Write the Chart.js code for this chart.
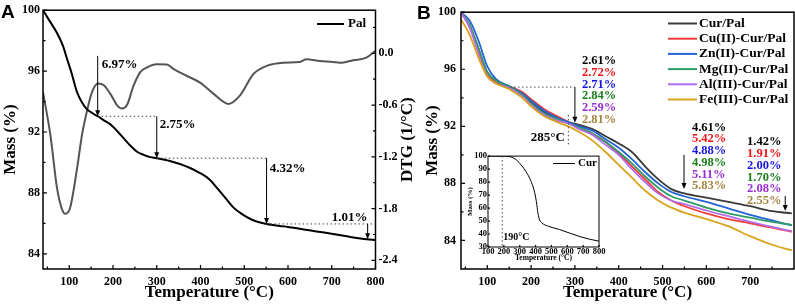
<!DOCTYPE html>
<html>
<head>
<meta charset="utf-8">
<script src="https://cdn.jsdelivr.net/npm/chart.js@4.4.1/dist/chart.umd.min.js"></script>
<style>
  html, body { margin: 0; padding: 0; background: #fff; }
  #wrap { position: relative; width: 795px; height: 304px; overflow: hidden; }
  #wrap canvas { position: absolute; top: 0; }
  .panel { position: absolute; font: bold 19px "Liberation Sans", Arial, sans-serif; color: #000; }
</style>
</head>
<body>
<div id="wrap">
  <canvas id="chartA" width="420" height="304" style="left:0"></canvas>
  <canvas id="chartB" width="377" height="304" style="left:418px"></canvas>
  <canvas id="inset" width="140" height="118" style="left:466px;top:150px"></canvas>
  <div class="panel" style="left:1px;top:1px">A</div>
  <div class="panel" style="left:417px;top:2px">B</div>
</div>
<script>
// ---- panel A: Pal, mass + DTG ----
const tempA = [40, 55, 72, 85, 95, 105, 118, 130, 140, 155, 167, 180, 194, 210, 224, 240, 255, 270, 285, 300,
  330, 353, 375, 399, 420, 437, 456, 475, 495, 513, 530, 551, 590, 627, 665, 703, 740, 780, 800];
const massPal = [100, 99.3, 98.5, 97.7, 96.8, 95.9, 94.6, 93.9, 93.5, 93.2, 93.0, 92.75, 92.5, 92.05, 91.6, 91.1, 90.7, 90.5, 90.35, 90.28,
  90.1, 89.9, 89.65, 89.3, 88.9, 88.35, 87.7, 87.05, 86.6, 86.3, 86.1, 85.96, 85.8, 85.65, 85.47, 85.3, 85.12, 84.95, 84.9];

const tempDtg = [40, 57, 72, 83, 91, 102, 118, 129, 140, 152, 166, 179, 194, 209, 220, 232, 247, 262, 277, 300,
  323, 338, 368, 399, 430, 464, 490, 521, 551, 589, 627, 642, 673, 703, 718, 749, 779, 800];
const dtgPal = [-0.45, -0.95, -1.56, -1.80, -1.86, -1.79, -1.33, -0.95, -0.68, -0.45, -0.35, -0.37, -0.47, -0.60, -0.64, -0.60, -0.375, -0.22, -0.165, -0.127,
  -0.13, -0.18, -0.26, -0.34, -0.47, -0.586, -0.49, -0.24, -0.146, -0.108, -0.10, -0.07, -0.09, -0.10, -0.11, -0.08, -0.05, 0.03];

const xTicksA = [100, 200, 300, 400, 500, 600, 700, 800];
const yTicksA = [84, 88, 92, 96, 100];
const dtgTicks = [-2.4, -1.8, -1.2, -0.6, 0.0];

// weight-loss steps: arrow x, from, to, label
const stepX = [165, 300, 551, 782];
const stepFrom = [97.0, 93.03, 90.28, 85.96];
const stepTo = [93.03, 90.28, 85.96, 84.95];
const stepLabels = ['6.97%', '2.75%', '4.32%', '1.01%'];

// ---- panel B: metal complexes ----
const tempB = [40, 60, 80, 100, 120, 150, 180, 200, 230, 260, 285, 310, 340, 370, 400, 430, 460, 490, 520, 550, 600, 650, 700, 750, 795];
const massCurPal = [100, 99.0, 97.4, 95.8, 95.2, 94.8, 94.3, 93.7, 93.0, 92.6, 92.3, 92.1, 91.8, 91.3, 90.8, 90.2, 89.2, 88.3, 87.6, 87.3, 87.0, 86.7, 86.4, 86.05, 85.9];
const massCu = [100, 99.0, 97.3, 95.7, 95.1, 94.8, 94.4, 93.9, 93.2, 92.7, 92.3, 91.9, 91.5, 90.9, 90.1, 89.2, 88.3, 87.4, 86.8, 86.4, 85.9, 85.5, 85.2, 84.9, 84.6];
const massZn = [100, 99.4, 98.0, 96.2, 95.3, 94.8, 94.3, 93.8, 93.1, 92.6, 92.3, 92.0, 91.7, 91.1, 90.5, 89.7, 88.8, 88.0, 87.4, 87.1, 86.7, 86.25, 85.8, 85.4, 85.05];
const massMg = [100, 99.1, 97.5, 95.8, 95.2, 94.8, 94.2, 93.6, 92.9, 92.5, 92.2, 91.9, 91.5, 90.9, 90.2, 89.4, 88.5, 87.7, 87.1, 86.8, 86.3, 85.9, 85.6, 85.3, 85.1];
const massAl = [100, 98.9, 97.1, 95.5, 95.0, 94.7, 94.1, 93.5, 92.8, 92.4, 92.2, 91.8, 91.4, 90.7, 90.0, 89.0, 88.1, 87.3, 86.8, 86.55, 86.1, 85.7, 85.3, 84.95, 84.65];
const massFe = [99.5, 98.4, 96.8, 95.5, 95.0, 94.6, 94.0, 93.4, 92.7, 92.3, 92.0, 91.6, 91.0, 90.2, 89.3, 88.4, 87.5, 86.8, 86.3, 85.95, 85.5, 85.0, 84.3, 83.7, 83.3];

const namesB = ['Cur/Pal', 'Cu(II)-Cur/Pal', 'Zn(II)-Cur/Pal', 'Mg(II)-Cur/Pal', 'Al(III)-Cur/Pal', 'Fe(III)-Cur/Pal'];
const seriesB = [massCurPal, massCu, massZn, massMg, massAl, massFe];
const lineColors = ['#3a3a3a', '#f23b3b', '#2463d6', '#2e9b68', '#b46ce6', '#d9a31c'];
const textColors = ['#000000', '#f01414', '#1515e0', '#1a7d1a', '#9a2ed2', '#a38440'];

const loss1 = ['2.61%', '2.72%', '2.71%', '2.84%', '2.59%', '2.81%'];
const loss2 = ['4.61%', '5.42%', '4.88%', '4.98%', '5.11%', '5.83%'];
const loss3 = ['1.42%', '1.91%', '2.00%', '1.70%', '2.08%', '2.55%'];

const xTicksB = [100, 200, 300, 400, 500, 600, 700];
const yTicksB = [84, 88, 92, 96, 100];

// ---- inset: Cur ----
const tempCur = [100, 150, 200, 240, 280, 310, 340, 370, 390, 405, 415, 425, 440, 480, 550, 620, 680, 740, 800];
const massCur = [100, 100, 100, 99.5, 97, 93, 88, 81, 74, 65, 56, 51, 48.5, 46, 43.5, 40.5, 38, 36, 34.5];
const xTicksIn = [100, 200, 300, 400, 500, 600, 700, 800];
const yTicksIn = [30, 40, 50, 60, 70, 80, 90, 100];

Chart.defaults.font.family = '"Liberation Serif", "Times New Roman", serif';
Chart.defaults.font.weight = 'bold';
Chart.defaults.color = '#000';

const SERIF = '"Liberation Serif", "Times New Roman", serif';

function pairs(xs, ys) {
    return xs.map((x, i) => ({ x: x, y: ys[i] }));
}

function steps(from, to, step) {
    const out = [];
    for (let v = from; v <= to + 1e-9; v += step) out.push(+v.toFixed(3));
    return out;
}

function fixSize(size) {
    return function (scale) {
        if (scale.isHorizontal()) scale.height = size;
        else scale.width = size;
    };
}

function setTicks(values) {
    return function (scale) {
        scale.ticks = values.map(v => ({ value: v }));
    };
}

function frame(ctx, a, lw) {
    ctx.save();
    ctx.strokeStyle = '#000';
    ctx.lineWidth = lw;
    ctx.strokeRect(a.left, a.top, a.right - a.left, a.bottom - a.top);
    ctx.restore();
}

function ticksIn(ctx, a, scale, values, len, side) {
    ctx.save();
    ctx.strokeStyle = '#000';
    ctx.lineWidth = 1.2;
    ctx.beginPath();
    values.forEach(v => {
        const p = scale.getPixelForValue(v);
        if (side === 'bottom') { ctx.moveTo(p, a.bottom); ctx.lineTo(p, a.bottom - len); }
        if (side === 'left') { ctx.moveTo(a.left, p); ctx.lineTo(a.left + len, p); }
        if (side === 'right') { ctx.moveTo(a.right, p); ctx.lineTo(a.right - len, p); }
    });
    ctx.stroke();
    ctx.restore();
}

function dotted(ctx, x1, y1, x2, y2) {
    ctx.save();
    ctx.strokeStyle = '#444';
    ctx.lineWidth = 1;
    ctx.setLineDash([1.5, 2.5]);
    ctx.beginPath();
    ctx.moveTo(x1, y1);
    ctx.lineTo(x2, y2);
    ctx.stroke();
    ctx.restore();
}

function arrowDown(ctx, x, y1, y2) {
    ctx.save();
    ctx.strokeStyle = '#000';
    ctx.fillStyle = '#000';
    ctx.lineWidth = 1;
    ctx.beginPath();
    ctx.moveTo(x, y1);
    ctx.lineTo(x, y2 - 4);
    ctx.stroke();
    ctx.beginPath();
    ctx.moveTo(x - 2.5, y2 - 6);
    ctx.lineTo(x + 2.5, y2 - 6);
    ctx.lineTo(x, y2);
    ctx.closePath();
    ctx.fill();
    ctx.restore();
}

function label(ctx, text, x, y, size, color, align) {
    ctx.save();
    ctx.font = 'bold ' + size + 'px ' + SERIF;
    ctx.fillStyle = color || '#000';
    ctx.textAlign = align || 'left';
    ctx.textBaseline = 'middle';
    ctx.fillText(text, x, y);
    ctx.restore();
}

const tickFont = { size: 12, weight: 'bold' };
const titleFont = { size: 17, weight: 'bold' };

// ---------- Chart A ----------
const decorA = {
    id: 'decorA',
    afterDatasetsDraw(chart) {
        const { ctx, chartArea: a, scales: { x, y, y2 } } = chart;
        frame(ctx, a, 1.5);
        ticksIn(ctx, a, x, xTicksA, 4, 'bottom');
        ticksIn(ctx, a, x, steps(50, 750, 100), 2.5, 'bottom');
        ticksIn(ctx, a, y, yTicksA, 4, 'left');
        ticksIn(ctx, a, y, steps(86, 98, 4), 2.5, 'left');
        ticksIn(ctx, a, y2, dtgTicks, 4, 'right');
        ticksIn(ctx, a, y2, steps(-2.1, 0.3, 0.6), 2.5, 'right');

        // weight-loss steps
        for (let i = 0; i < stepX.length; i++) {
            const px = x.getPixelForValue(stepX[i]);
            const yTop = y.getPixelForValue(stepFrom[i]);
            const yBot = y.getPixelForValue(stepTo[i]);
            if (i < stepX.length - 1) {
                const nx = i < stepX.length - 2 ? x.getPixelForValue(stepX[i + 1]) : a.right;
                dotted(ctx, px, yBot, nx, yBot);
            }
            arrowDown(ctx, px, yTop, yBot);
        }
        label(ctx, stepLabels[0], x.getPixelForValue(174), y.getPixelForValue(96.4), 13);
        label(ctx, stepLabels[1], x.getPixelForValue(307), y.getPixelForValue(92.5), 13);
        label(ctx, stepLabels[2], x.getPixelForValue(558), y.getPixelForValue(89.6), 13);
        label(ctx, stepLabels[3], x.getPixelForValue(700), y.getPixelForValue(86.4), 13);

        // legend
        const ly = 24;
        ctx.save();
        ctx.strokeStyle = '#000';
        ctx.lineWidth = 2;
        ctx.beginPath();
        ctx.moveTo(317, ly);
        ctx.lineTo(344, ly);
        ctx.stroke();
        ctx.restore();
        label(ctx, 'Pal', 348, ly, 13);

        // right axis title, reads bottom to top
        ctx.save();
        ctx.translate(408, (a.top + a.bottom) / 2);
        ctx.rotate(-Math.PI / 2);
        label(ctx, 'DTG (1/°C)', 0, 0, 17, '#000', 'center');
        ctx.restore();
    }
};

new Chart(document.getElementById('chartA'), {
    type: 'line',
    data: {
        datasets: [
            { label: 'Pal', data: pairs(tempA, massPal), yAxisID: 'y', borderColor: '#000', borderWidth: 2,
              pointRadius: 0, cubicInterpolationMode: 'monotone', fill: false },
            { label: 'DTG', data: pairs(tempDtg, dtgPal), yAxisID: 'y2', borderColor: '#555', borderWidth: 2,
              pointRadius: 0, cubicInterpolationMode: 'monotone', fill: false }
        ]
    },
    options: {
        responsive: false, animation: false, devicePixelRatio: 1,
        layout: { padding: { top: 7, left: 0, right: 0, bottom: 0 } },
        plugins: { legend: { display: false }, tooltip: { enabled: false } },
        scales: {
            x: {
                type: 'linear', min: 40, max: 800,
                afterBuildTicks: setTicks(xTicksA), afterFit: fixSize(35),
                grid: { display: false, drawTicks: false }, border: { display: false },
                ticks: { font: tickFont, padding: 6, maxRotation: 0, autoSkip: false },
                title: { display: true, text: 'Temperature (°C)', font: titleFont, padding: { top: 0, bottom: 1 } }
            },
            y: {
                position: 'left', min: 83, max: 100,
                afterBuildTicks: setTicks(yTicksA), afterFit: fixSize(43),
                grid: { display: false, drawTicks: false }, border: { display: false },
                ticks: { font: tickFont, padding: 3, autoSkip: false },
                title: { display: true, text: 'Mass (%)', font: titleFont, padding: { top: 0, bottom: 0 } }
            },
            y2: {
                position: 'right', min: -2.5, max: 0.5,
                afterBuildTicks: setTicks(dtgTicks), afterFit: fixSize(44.5),
                grid: { display: false, drawTicks: false }, border: { display: false },
                ticks: { font: tickFont, padding: 3, autoSkip: false, callback: v => v.toFixed(1) }
            }
        }
    },
    plugins: [decorA]
});

// ---------- Chart B ----------
const decorB = {
    id: 'decorB',
    afterDatasetsDraw(chart) {
        const { ctx, chartArea: a, scales: { x, y } } = chart;
        frame(ctx, a, 1.5);
        ticksIn(ctx, a, x, xTicksB, 4, 'bottom');
        ticksIn(ctx, a, x, steps(50, 750, 100), 2.5, 'bottom');
        ticksIn(ctx, a, y, yTicksB, 4, 'left');
        ticksIn(ctx, a, y, steps(86, 98, 4), 2.5, 'left');

        // first step, 285 °C
        const yA = y.getPixelForValue(94.75);
        dotted(ctx, x.getPixelForValue(152), yA, x.getPixelForValue(300), yA);
        arrowDown(ctx, x.getPixelForValue(300), yA, y.getPixelForValue(92.25));
        dotted(ctx, x.getPixelForValue(285), y.getPixelForValue(92.8), x.getPixelForValue(285), y.getPixelForValue(90.6));
        label(ctx, '285°C', x.getPixelForValue(277), y.getPixelForValue(91.2), 13, '#000', 'right');

        arrowDown(ctx, x.getPixelForValue(549), y.getPixelForValue(90.0), y.getPixelForValue(87.6));
        arrowDown(ctx, x.getPixelForValue(780), y.getPixelForValue(87.12), y.getPixelForValue(86.06));

        const groups = [[loss1, 316, 96.58], [loss2, 567, 91.92], [loss3, 693, 90.89]];
        groups.forEach(([texts, gx, gy]) => {
            const px = x.getPixelForValue(gx);
            const py = y.getPixelForValue(gy);
            texts.forEach((t, i) => label(ctx, t, px, py + i * 11.7, 12.5, textColors[i]));
        });

        // legend
        namesB.forEach((n, i) => {
            const ly = 23.5 + i * 15.2;
            ctx.save();
            ctx.strokeStyle = lineColors[i];
            ctx.lineWidth = 2;
            ctx.beginPath();
            ctx.moveTo(668 - 418, ly);
            ctx.lineTo(697 - 418, ly);
            ctx.stroke();
            ctx.restore();
            label(ctx, n, 699 - 418, ly, 13.5);
        });
    }
};

new Chart(document.getElementById('chartB'), {
    type: 'line',
    data: {
        datasets: namesB.map((n, i) => ({
            label: n, data: pairs(tempB, seriesB[i]), borderColor: lineColors[i], borderWidth: 1.8,
            pointRadius: 0, cubicInterpolationMode: 'monotone', fill: false, order: namesB.length - i
        }))
    },
    options: {
        responsive: false, animation: false, devicePixelRatio: 1,
        layout: { padding: { top: 7, left: 0, right: 1, bottom: 0 } },
        plugins: { legend: { display: false }, tooltip: { enabled: false } },
        scales: {
            x: {
                type: 'linear', min: 40, max: 800,
                afterBuildTicks: setTicks(xTicksB), afterFit: fixSize(35),
                grid: { display: false, drawTicks: false }, border: { display: false },
                ticks: { font: tickFont, padding: 6, maxRotation: 0, autoSkip: false },
                title: { display: true, text: 'Temperature (°C)', font: titleFont, padding: { top: 0, bottom: 1 } }
            },
            y: {
                position: 'left', min: 82, max: 100,
                afterBuildTicks: setTicks(yTicksB), afterFit: fixSize(43),
                grid: { display: false, drawTicks: false }, border: { display: false },
                ticks: { font: tickFont, padding: 5, autoSkip: false },
                title: { display: true, text: 'Mass (%)', font: titleFont, padding: { top: 4, bottom: 0 } }
            }
        }
    },
    plugins: [decorB]
});

// ---------- Inset ----------
const decorIn = {
    id: 'decorIn',
    beforeDatasetsDraw(chart) {
        const { ctx, chartArea: a } = chart;
        ctx.save();
        ctx.fillStyle = '#fff';
        ctx.fillRect(a.left, a.top, a.right - a.left, a.bottom - a.top);
        ctx.restore();
    },
    afterDatasetsDraw(chart) {
        const { ctx, chartArea: a, scales: { x, y } } = chart;
        frame(ctx, a, 1);
        ticksIn(ctx, a, x, xTicksIn, 2, 'bottom');
        ticksIn(ctx, a, y, yTicksIn, 2, 'left');
        const px = x.getPixelForValue(190);
        dotted(ctx, px, a.top, px, a.bottom);
        label(ctx, '190°C', px + 1, y.getPixelForValue(37), 10);
        const ly = 13.5;
        ctx.save();
        ctx.strokeStyle = '#000';
        ctx.lineWidth = 1;
        ctx.beginPath();
        ctx.moveTo(553 - 466, ly);
        ctx.lineTo(575 - 466, ly);
        ctx.stroke();
        ctx.restore();
        label(ctx, 'Cur', 578 - 466, ly, 11);
    }
};

new Chart(document.getElementById('inset'), {
    type: 'line',
    data: {
        datasets: [{ label: 'Cur', data: pairs(tempCur, massCur), borderColor: '#000', borderWidth: 1,
            pointRadius: 0, cubicInterpolationMode: 'monotone', fill: false }]
    },
    options: {
        responsive: false, animation: false, devicePixelRatio: 1,
        layout: { padding: { top: 5.5, left: 0, right: 7, bottom: 0 } },
        plugins: { legend: { display: false }, tooltip: { enabled: false } },
        scales: {
            x: {
                type: 'linear', min: 100, max: 800,
                afterBuildTicks: setTicks(xTicksIn), afterFit: fixSize(21),
                grid: { display: false, drawTicks: false }, border: { display: false },
                ticks: { font: { size: 8.5, weight: 'bold' }, padding: 0, maxRotation: 0, autoSkip: false },
                title: { display: true, text: 'Temperature (°C)', font: { size: 7.5, weight: 'bold' }, padding: { top: 0, bottom: 5 } }
            },
            y: {
                position: 'left', min: 30, max: 100,
                afterBuildTicks: setTicks(yTicksIn), afterFit: fixSize(22),
                grid: { display: false, drawTicks: false }, border: { display: false },
                ticks: { font: { size: 8.5, weight: 'bold' }, padding: 1, autoSkip: false },
                title: { display: true, text: 'Mass (%)', font: { size: 7, weight: 'bold' }, padding: { top: 0, bottom: 0 } }
            }
        }
    },
    plugins: [decorIn]
});
</script>
</body>
</html>
